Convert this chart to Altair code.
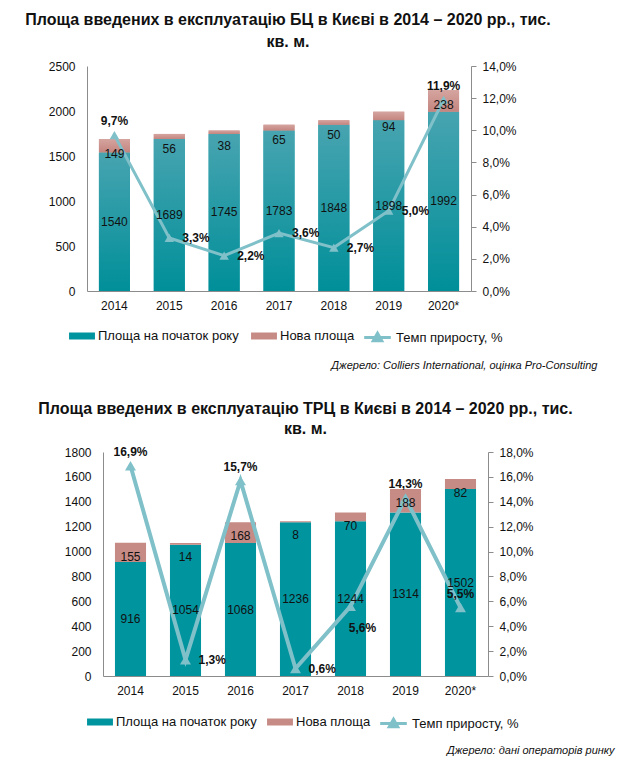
import altair as alt
import pandas as pd

# ---------------- data ----------------
YEARS = ["2014", "2015", "2016", "2017", "2018", "2019", "2020*"]

BC_START = [1540, 1689, 1745, 1783, 1848, 1898, 1992]
BC_NEW = [149, 56, 38, 65, 50, 94, 238]
BC_RATE = [9.7, 3.3, 2.2, 3.6, 2.7, 5.0, 11.9]

TRC_START = [916, 1054, 1068, 1236, 1244, 1314, 1502]
TRC_NEW = [155, 14, 168, 8, 70, 188, 82]
TRC_RATE = [16.9, 1.3, 15.7, 0.6, 5.6, 14.3, 5.5]

BC_LEFT_TICKS = [0, 500, 1000, 1500, 2000, 2500]
BC_RIGHT_TICKS = [0, 0.02, 0.04, 0.06, 0.08, 0.10, 0.12, 0.14]
TRC_LEFT_TICKS = [0, 200, 400, 600, 800, 1000, 1200, 1400, 1600, 1800]
TRC_RIGHT_TICKS = [0, 0.02, 0.04, 0.06, 0.08, 0.10, 0.12, 0.14, 0.16, 0.18]

S_BASE = "Площа на початок року"
S_NEW = "Нова площа"
S_RATE = "Темп приросту, %"

BC_TITLE = ["Площа введених в експлуатацію БЦ в Києві в 2014 – 2020 рр., тис.", "кв. м."]
TRC_TITLE = ["Площа введених в експлуатацію ТРЦ в Києві в 2014 – 2020 рр., тис.", "кв. м."]
BC_SOURCE = "Джерело: Colliers International, оцінка Pro-Consulting"
TRC_SOURCE = "Джерело: дані операторів ринку"

# label placement of the growth-rate labels
BC_ABOVE = ["2014", "2020*"]
BC_RIGHT = ["2015", "2016", "2017", "2018", "2019"]
BC_BELOW = []
TRC_ABOVE = ["2014", "2016", "2019", "2020*"]
TRC_RIGHT = ["2015", "2017"]
TRC_BELOW = ["2018"]

# ---------------- style ----------------
TEAL = "#00949f"
PINK = "#c78b85"
LINE = "#7fc0c9"
GRAY = "#8c8c8c"
TXT = "#111111"
FONT = "Liberation Sans, Arial, sans-serif"

RECT = "M-1.85,-0.5H1.85V0.5H-1.85Z"
LINESYM = "M-1.9,0H1.9M0,-0.6L0.6,0.45L-0.6,0.45Z"


def pct_label(v):
    return f"{v:.1f}".replace(".", ",") + "%"


def panel(title, start, new, rate, left_ticks, right_ticks, width, height,
          above, right_side, below, source, gradient, line_w, tri_size,
          lgx1, lgx2, new_dy, title_dx, col_pad, title_lh, title_off):
    totals = [s + n for s, n in zip(start, new)]
    bars = pd.DataFrame({
        "year": YEARS * 2,
        "series": [S_BASE] * len(YEARS) + [S_NEW] * len(YEARS),
        "lo": [0] * len(YEARS) + start,
        "hi": start + totals,
    })
    labels = pd.DataFrame({
        "year": YEARS,
        "mid": [s / 2 for s in start],
        "start": start,
        "total": totals,
        "new": new,
    })
    rates = pd.DataFrame({
        "year": YEARS,
        "rate": [r / 100 for r in rate],
        "label": [pct_label(r) for r in rate],
        "series": [S_RATE] * len(YEARS),
    })
    ymax = left_ticks[-1]

    x = alt.X("year:N",
              scale=alt.Scale(domain=YEARS, paddingInner=0.435, paddingOuter=0.2175),
              axis=alt.Axis(title=source, labelAngle=0, ticks=False, domainColor=GRAY,
                            labelPadding=9, labelFontSize=12, labelColor=TXT,
                            titleX=width + 126, titleY=74, titleAlign="right",
                            titleBaseline="middle", titleFontStyle="italic",
                            titleFontWeight="normal", titleFontSize=11, titleColor=TXT))
    yL = alt.Y("lo:Q", scale=alt.Scale(domain=[0, ymax], nice=False),
               axis=alt.Axis(orient="left", values=left_ticks, title=None, ticks=False,
                             grid=False, domainColor=GRAY, labelPadding=12, format="d",
                             labelFontSize=12, labelColor=TXT))

    bar = alt.Chart(bars).mark_bar().encode(
        x=x, y=yL, y2="hi:Q",
        color=alt.Color("series:N",
                        scale=alt.Scale(domain=[S_BASE, S_NEW], range=[TEAL, PINK]),
                        legend=alt.Legend(title=None, orient="none", legendX=lgx1, legendY=263,
                                          direction="horizontal", symbolType=RECT,
                                          symbolSize=196, symbolStrokeWidth=0,
                                          symbolOpacity=1, labelOffset=9, columnPadding=col_pad,
                                          labelFontSize=13, labelColor=TXT, padding=0)))
    left_layers = [bar]
    if gradient:
        for ser, c0, c1 in [(S_BASE, "#47a4b0", "#008f99"), (S_NEW, "#d5a49f", "#c4857f")]:
            g = alt.Chart(bars).transform_filter(alt.datum.series == ser).mark_bar(
                color=alt.LinearGradient(gradient="linear", x1=0, x2=0, y1=0, y2=1,
                                         stops=[alt.GradientStop(color=c0, offset=0),
                                                alt.GradientStop(color=c1, offset=1)])
            ).encode(x=x, y=yL, y2="hi:Q")
            left_layers.append(g)
    left = alt.layer(*left_layers)

    yR = alt.Y("rate:Q", scale=alt.Scale(domain=[0, right_ticks[-1]], nice=False),
               axis=alt.Axis(orient="right", values=right_ticks, title=None, grid=False,
                             tickSize=5, tickColor=GRAY, domainColor=GRAY, labelPadding=6,
                             labelFontSize=12, labelColor=TXT,
                             labelExpr="replace(format(datum.value, '.1%'), '.', ',')"))
    line = alt.Chart(rates).mark_line(
        strokeWidth=line_w,
        point=alt.OverlayMarkDef(shape="triangle-up", size=tri_size, filled=True, opacity=1)
    ).encode(
        x=x, y=yR,
        color=alt.Color("series:N", scale=alt.Scale(domain=[S_RATE], range=[LINE]),
                        legend=alt.Legend(title=None, orient="none", legendX=lgx2, legendY=263,
                                          symbolType=LINESYM, symbolSize=196,
                                          symbolStrokeWidth=3, symbolFillColor=LINE,
                                          symbolStrokeColor=LINE, labelOffset=10,
                                          labelFontSize=13, labelColor=TXT, padding=0)))

    def plab(years, **kw):
        return alt.Chart(rates).transform_filter(
            alt.FieldOneOfPredicate(field="year", oneOf=years)
        ).mark_text(fontWeight="bold", fontSize=12, color=TXT, font=FONT,
                    baseline="middle", **kw).encode(x=x, y=yR, text="label:N")

    right_layers = [line, plab(above, dy=-14), plab(right_side, align="left", dx=13)]
    if below:
        right_layers.append(plab(below, dx=12, dy=22))
    right = alt.layer(*right_layers)

    def yLab(f):
        return alt.Y(f, scale=alt.Scale(domain=[0, ymax], nice=False), axis=None)

    t_base = alt.Chart(labels).mark_text(fontSize=12, color=TXT, font=FONT, baseline="middle").encode(
        x=x, y=yLab("mid:Q"), text="start:Q")
    t_new = alt.Chart(labels).mark_text(fontSize=12, color=TXT, font=FONT, baseline="middle",
                                        dy=new_dy).encode(
        x=x, y=yLab("total:Q"), text="new:Q")
    texts = alt.layer(t_base, t_new)

    return alt.layer(left, right, texts).resolve_scale(
        y="independent", color="independent"
    ).properties(
        width=width, height=height,
        title=alt.TitleParams(text=title, fontSize=16, fontWeight="bold", font=FONT,
                              anchor="middle", frame="group", dx=title_dx, offset=title_off,
                              lineHeight=title_lh, color=TXT))


chart1 = panel(BC_TITLE, BC_START, BC_NEW, BC_RATE, BC_LEFT_TICKS, BC_RIGHT_TICKS,
               384, 225, BC_ABOVE, BC_RIGHT, BC_BELOW, BC_SOURCE, True, 3, 90,
               -12, 282, 15, 9, 12, 22, 10)
chart2 = panel(TRC_TITLE, TRC_START, TRC_NEW, TRC_RATE, TRC_LEFT_TICKS, TRC_RIGHT_TICKS,
               385, 224, TRC_ABOVE, TRC_RIGHT, TRC_BELOW, TRC_SOURCE, False, 4, 120,
               -10, 282, 14, 10, 10, 20, 9)

spacer = alt.Chart(pd.DataFrame({"v": [0]})).mark_point(opacity=0).encode(
    x=alt.value(0), y=alt.value(0)).properties(width=1, height=1)

row2 = alt.hconcat(spacer, chart2, spacing=15, bounds="flush")
final = alt.vconcat(chart1, row2, spacing=161, bounds="flush").properties(
    padding={"left": 17, "top": 4, "right": 5, "bottom": 5}
).configure(font=FONT).configure_view(stroke=None).configure_axis(
    labelFont=FONT, titleFont=FONT).configure_legend(labelFont=FONT).configure_title(font=FONT)

final.save("out.html", embed_options={"renderer": "svg", "actions": False})
